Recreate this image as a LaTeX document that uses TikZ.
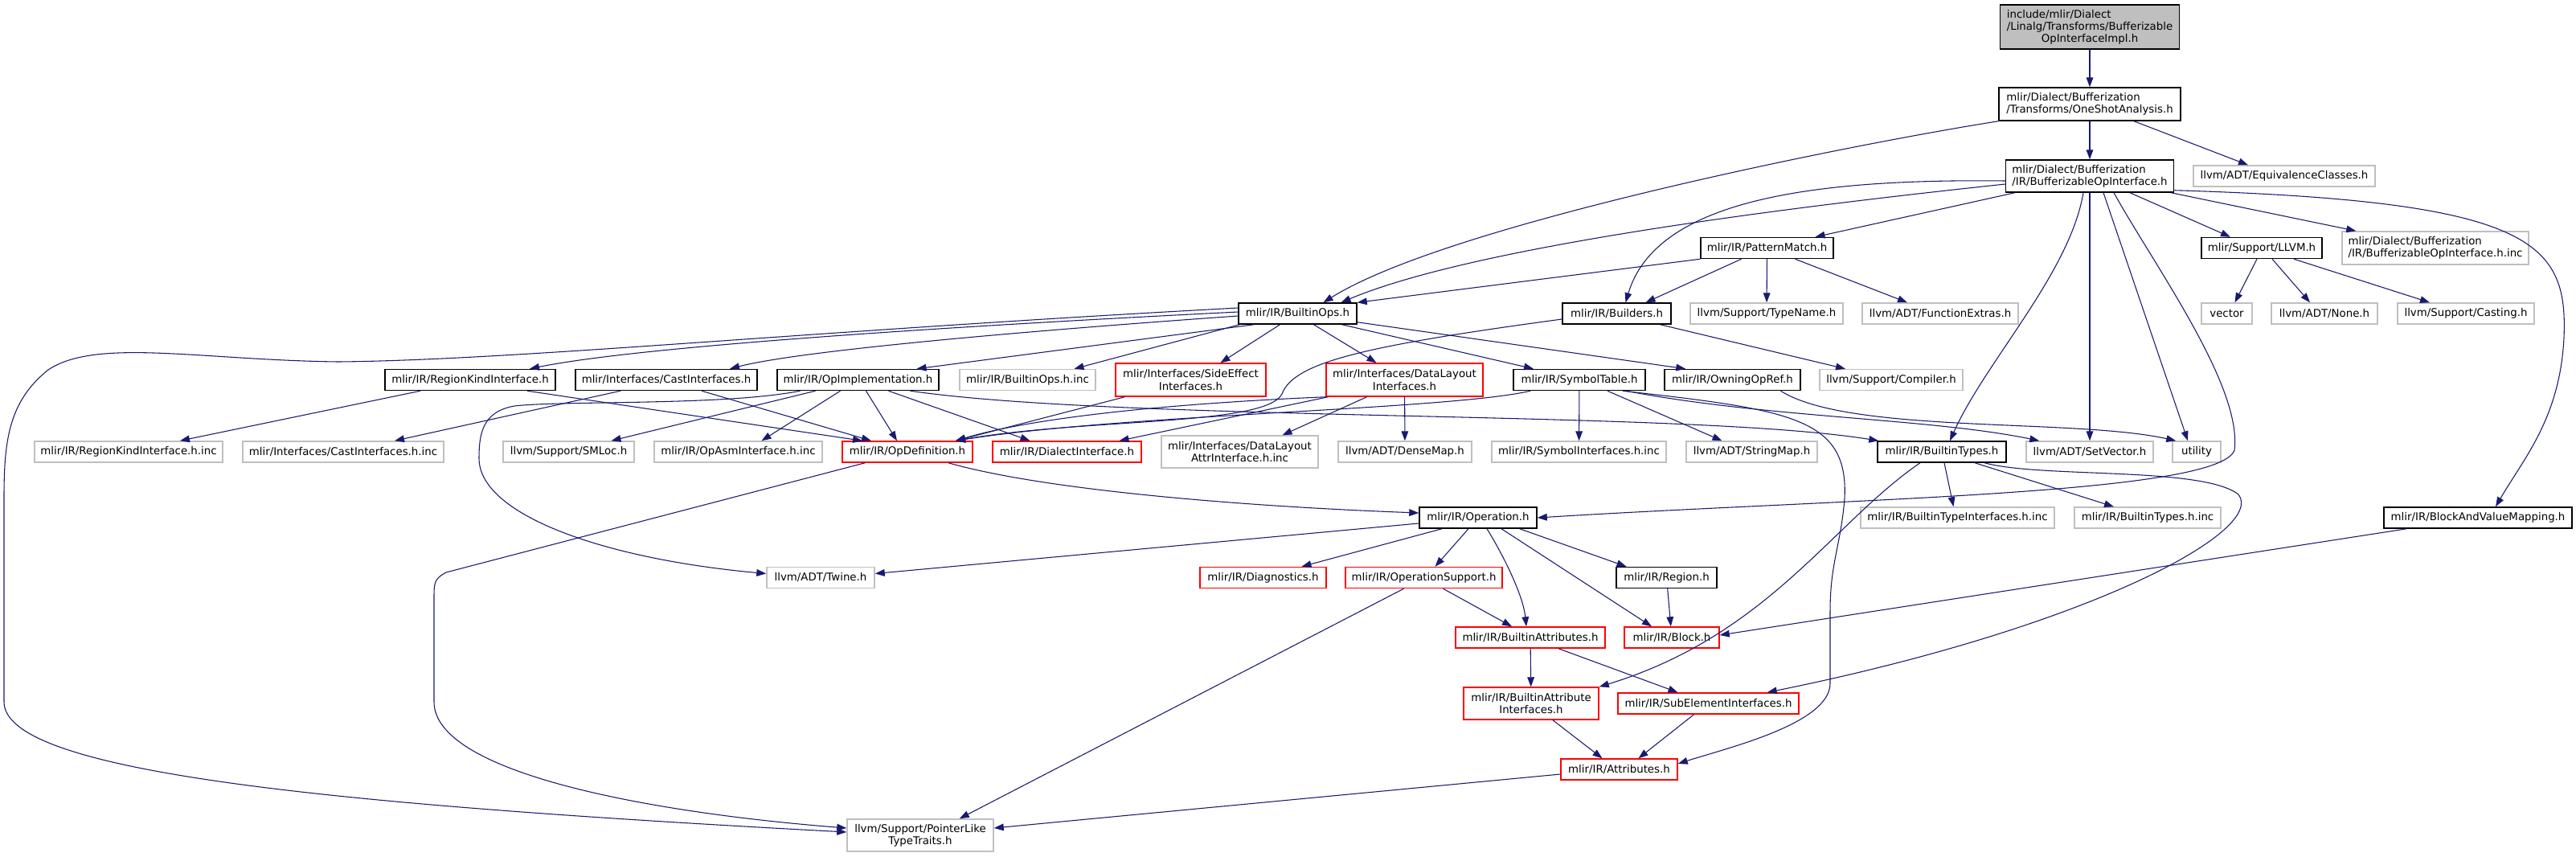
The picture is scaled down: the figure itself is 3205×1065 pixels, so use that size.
\documentclass[tikz,border=0pt]{standalone}
\usepackage{fontspec}
\setmainfont{DejaVu Sans}
\usepackage{calc}
\usetikzlibrary{arrows.meta,calc}
\definecolor{edgec}{RGB}{25,25,112}
\definecolor{grayb}{RGB}{191,191,191}
\newcommand{\mknode}[7]{\node[#6, minimum width=#4*0.75pt, minimum height=#5*0.75pt] (#1) at (#2,#3) {#7};}
\begin{document}
\begin{tikzpicture}[x=0.75pt,y=-0.75pt,
  nb/.style={draw, line width=1.1pt, inner sep=0pt, font=\fontsize{10}{11.3}\selectfont, fill=white},
  blk/.style={nb, draw=black},
  gry/.style={nb, draw=grayb},
  rd/.style={nb, draw=red},
  e/.style={draw=edgec, line width=0.8pt, -{Triangle[length=9pt,width=6.5pt]}}]
\useasboundingbox (0,0) rectangle (3205,1065);
\fill[white] (0,0) rectangle (3205,1065);
% nodes
\mknode{root}{2600}{33.5}{223}{55}{blk,fill=grayb,align=left}{include/mlir/Dialect\\/Linalg/Transforms/Bufferizable\\\makebox[\widthof{/Linalg/Transforms/Bufferizable}][c]{OpInterfaceImpl.h}}
\mknode{oneshot}{2600}{129.5}{226}{41}{blk,align=left}{mlir/Dialect/Bufferization\\/Transforms/OneShotAnalysis.h}
\mknode{boi}{2600}{219}{209}{40}{blk,align=left}{mlir/Dialect/Bufferization\\/IR/BufferizableOpInterface.h}
\mknode{equiv}{2842}{219}{226}{26}{gry}{llvm/ADT/EquivalenceClasses.h}
\mknode{pm}{2198.5}{308.5}{165}{26}{blk}{mlir/IR/PatternMatch.h}
\mknode{llvmh}{2814}{308.5}{150}{26}{blk}{mlir/Support/LLVM.h}
\mknode{boiinc}{3030}{308.5}{232}{41}{gry,align=left}{mlir/Dialect/Bufferization\\/IR/BufferizableOpInterface.h.inc}
\mknode{builders}{2011.5}{390}{135}{26}{blk}{mlir/IR/Builders.h}
\mknode{typename}{2198}{390}{190}{26}{gry}{llvm/Support/TypeName.h}
\mknode{funcext}{2414}{390}{194}{26}{gry}{llvm/ADT/FunctionExtras.h}
\mknode{vector}{2770.5}{390}{63}{26}{gry}{vector}
\mknode{none}{2892}{390}{132}{26}{gry}{llvm/ADT/None.h}
\mknode{casting}{3068}{390}{170}{26}{gry}{llvm/Support/Casting.h}
\mknode{bops}{1614.5}{390}{147}{26}{blk}{mlir/IR/BuiltinOps.h}
\mknode{rki}{585}{472.5}{212}{26}{blk}{mlir/IR/RegionKindInterface.h}
\mknode{casti}{829}{472.5}{226}{26}{blk}{mlir/Interfaces/CastInterfaces.h}
\mknode{opimpl}{1067.5}{472.5}{201}{26}{blk}{mlir/IR/OpImplementation.h}
\mknode{bopsinc}{1278.5}{472.5}{169}{26}{gry}{mlir/IR/BuiltinOps.h.inc}
\mknode{sideeff}{1481.5}{472.5}{187}{41}{rd,align=center}{mlir/Interfaces/SideEffect\\Interfaces.h}
\mknode{dli}{1747.5}{472.5}{195}{41}{rd,align=center}{mlir/Interfaces/DataLayout\\Interfaces.h}
\mknode{symtab}{1965}{472.5}{164}{26}{blk}{mlir/IR/SymbolTable.h}
\mknode{owning}{2155.5}{472.5}{169}{26}{blk}{mlir/IR/OwningOpRef.h}
\mknode{compiler}{2353}{472.5}{178}{26}{gry}{llvm/Support/Compiler.h}
\mknode{rkiinc}{160}{562}{234}{26}{gry}{mlir/IR/RegionKindInterface.h.inc}
\mknode{castiinc}{427}{562}{250}{26}{gry}{mlir/Interfaces/CastInterfaces.h.inc}
\mknode{smloc}{707.5}{562}{163}{26}{gry}{llvm/Support/SMLoc.h}
\mknode{opasm}{918.5}{562}{209}{26}{gry}{mlir/IR/OpAsmInterface.h.inc}
\mknode{opdef}{1129}{562}{162}{26}{rd}{mlir/IR/OpDefinition.h}
\mknode{dialect}{1327.5}{562}{185}{26}{rd}{mlir/IR/DialectInterface.h}
\mknode{dlattr}{1542.5}{562}{195}{40}{gry,align=center}{mlir/Interfaces/DataLayout\\AttrInterface.h.inc}
\mknode{densemap}{1748}{562}{166}{26}{gry}{llvm/ADT/DenseMap.h}
\mknode{symifinc}{1964.5}{562}{217}{26}{gry}{mlir/IR/SymbolInterfaces.h.inc}
\mknode{stringmap}{2179.5}{562}{163}{26}{gry}{llvm/ADT/StringMap.h}
\mknode{btypes}{2416}{562}{160}{26}{blk}{mlir/IR/BuiltinTypes.h}
\mknode{setvector}{2600}{562}{158}{26}{gry}{llvm/ADT/SetVector.h}
\mknode{utility}{2733}{562}{60}{26}{gry}{utility}
\mknode{operation}{1839}{644}{146}{26}{blk}{mlir/IR/Operation.h}
\mknode{btiinc}{2435.5}{644}{241}{26}{gry}{mlir/IR/BuiltinTypeInterfaces.h.inc}
\mknode{btinc}{2672}{644}{182}{26}{gry}{mlir/IR/BuiltinTypes.h.inc}
\mknode{bvm}{3083}{644}{234}{26}{blk}{mlir/IR/BlockAndValueMapping.h}
\mknode{twine}{1021}{718.5}{134}{26}{gry}{llvm/ADT/Twine.h}
\mknode{diag}{1571.5}{718.5}{157}{26}{rd}{mlir/IR/Diagnostics.h}
\mknode{opsupport}{1771.5}{718.5}{195}{26}{rd}{mlir/IR/OperationSupport.h}
\mknode{region}{2073.5}{718.5}{125}{26}{blk}{mlir/IR/Region.h}
\mknode{battr}{1904}{793}{186}{26}{rd}{mlir/IR/BuiltinAttributes.h}
\mknode{block}{2080}{793}{118}{26}{rd}{mlir/IR/Block.h}
\mknode{bai}{1905}{875}{168}{40}{rd,align=center}{mlir/IR/BuiltinAttribute\\Interfaces.h}
\mknode{subel}{2125.5}{875}{225}{26}{rd}{mlir/IR/SubElementInterfaces.h}
\mknode{attrs}{2014.5}{957}{145}{26}{rd}{mlir/IR/Attributes.h}
\mknode{plt}{1145}{1039}{182}{40}{gry,align=center}{llvm/Support/PointerLike\\TypeTraits.h}
% edges
\draw[e] (root) -- (oneshot);
\draw[e] (oneshot) -- (boi);
\draw[e] ($(oneshot.south)+(55,0)$) -- ($(equiv.north)+(-45,0)$);
\draw[e] (oneshot.south west) .. controls (2300,180) and (1800,280) .. ($(bops.north)+(32,0)$);
\draw[e] ($(boi.south west)+(12,0)$) -- ($(pm.north)+(60,0)$);
\draw[e] ($(boi.west)+(0,6)$) .. controls (2250,222) and (2060,250) .. ($(builders.north)+(11,0)$);
\draw[e] ($(boi.west)+(0,10)$) .. controls (2300,250) and (1850,300) .. ($(bops.north)+(54,0)$);
\draw[e] (pm.south west) -- (bops.north east);
\draw[e] ($(pm.south)+(-32,0)$) -- ($(builders.north)+(36,0)$);
\draw[e] (pm) -- (typename);
\draw[e] ($(pm.south)+(35,0)$) -- ($(funcext.north)+(-41,0)$);
\draw[e] ($(boi.south)+(50,0)$) -- ($(llvmh.north)+(-39,0)$);
\draw[e] ($(boi.south east)+(-4,0)$) -- ($(boiinc.north west)+(18,0)$);
\draw[e] ($(boi.south east)+(0,-3)$) .. controls (3150,250) and (3195,300) .. (3190,420) .. controls (3185,520) and (3140,570) .. ($(bvm.north)+(22,0)$);
\draw[e] ($(boi.south)+(-8,0)$) .. controls (2575,340) and (2470,450) .. ($(btypes.north)+(10,0)$);
\draw[e] (boi) -- (setvector);
\draw[e] ($(boi.south)+(17,0)$) -- ($(utility.north)+(-11,0)$);
\draw[e] ($(boi.south)+(30,0)$) .. controls (2680,330) and (2790,480) .. (2780,560) .. controls (2760,615) and (2300,620) .. (operation.east);
\draw[e] ($(llvmh.south)+(-6,0)$) -- ($(vector.north)+(10,0)$);
\draw[e] ($(llvmh.south)+(13,0)$) -- ($(none.north)+(-18,0)$);
\draw[e] ($(llvmh.south)+(40,0)$) -- ($(casting.north)+(-45,0)$);
\draw[e] ($(builders.west)+(0,7)$) .. controls (1700,430) and (1610,450) .. (1595,490) .. controls (1575,530) and (1350,520) .. ($(opdef.north)+(60,0)$);
\draw[e] ($(builders.south)+(54,0)$) -- ($(compiler.north)+(-57,0)$);
\draw[e] ($(bops.west)+(0,-2)$) .. controls (1200,405) and (800,430) .. ($(rki.north)+(74,0)$);
\draw[e] ($(bops.west)+(0,3)$) .. controls (1300,410) and (1000,435) .. ($(casti.north)+(79,0)$);
\draw[e] ($(bops.south west)+(20,0)$) -- ($(opimpl.north)+(73,0)$);
\draw[e] ($(bops.south west)+(2,0)$) -- ($(bopsinc.north)+(58,0)$);
\draw[e] ($(bops.south)+(-22,0)$) -- ($(sideeff.north)+(37,0)$);
\draw[e] ($(bops.south)+(20,0)$) -- ($(dli.north)+(-35,0)$);
\draw[e] ($(bops.south)+(55,0)$) -- ($(symtab.north)+(-57,0)$);
\draw[e] ($(bops.south east)+(0,-3)$) -- ($(owning.north west)+(27,0)$);
\draw[e] ($(bops.west)+(0,-7)$) .. controls (1000,412) and (640,448) .. (421,450) .. controls (250,448) and (120,420) .. (60,460) .. controls (10,500) and (5,550) .. (5,620) -- (5,873) .. controls (5,960) and (400,1000) .. ($(plt.west)+(0,-4)$);
\draw[e] ($(opdef.south west)+(29,0)$) -- (555,712) .. controls (540,720) and (540,725) .. (540,745) -- (540,873) .. controls (540,960) and (800,1010) .. ($(plt.west)+(0,-9)$);
\draw[e] ($(opimpl.south)+(-53,0)$) -- ($(smloc.north)+(53,0)$);
\draw[e] ($(opimpl.south)+(-22,0)$) -- ($(opasm.north)+(29,0)$);
\draw[e] ($(opimpl.south)+(10,0)$) -- ($(opdef.north)+(-13,0)$);
\draw[e] ($(opimpl.south)+(38,0)$) -- ($(dialect.north)+(-46,0)$);
\draw[e] ($(opimpl.south)+(65,0)$) .. controls (1400,525) and (2100,510) .. ($(btypes.north west)+(2,0)$);
\draw[e] ($(opimpl.south)+(-72,0)$) .. controls (900,505) and (700,498) .. (640,505) .. controls (600,512) and (596,540) .. (596,570) .. controls (596,640) and (750,695) .. ($(twine.west)+(0,-5)$);
\draw[e] ($(rki.south)+(-62,0)$) -- ($(rkiinc.north)+(64,0)$);
\draw[e] ($(rki.south)+(71,0)$) -- ($(opdef.north)+(-56,0)$);
\draw[e] ($(casti.south)+(-57,0)$) -- ($(castiinc.north)+(64,0)$);
\draw[e] ($(casti.south)+(44,0)$) -- ($(opdef.north)+(-45,0)$);
\draw[e] ($(sideeff.south west)+(12,0)$) -- ($(opdef.north)+(60,0)$);
\draw[e] (dli.south west) .. controls (1500,500) and (1300,515) .. ($(opdef.north)+(60,0)$);
\draw[e] ($(dli.south west)+(3,0)$) -- ($(dialect.north)+(65,0)$);
\draw[e] ($(dli.south)+(-47,0)$) -- ($(dlattr.north)+(53,0)$);
\draw[e] (dli) -- (densemap);
\draw[e] ($(symtab.south west)+(22,0)$) .. controls (1800,510) and (1400,515) .. ($(opdef.north)+(60,0)$);
\draw[e] (symtab) -- (symifinc);
\draw[e] ($(symtab.south)+(35,0)$) -- ($(stringmap.north)+(-37,0)$);
\draw[e] ($(symtab.south)+(58,0)$) .. controls (2200,520) and (2400,520) .. ($(setvector.north west)+(17,0)$);
\draw[e] ($(symtab.south)+(54,0)$) .. controls (2230,510) and (2300,520) .. (2295,620) .. controls (2290,680) and (2277,700) .. (2277,760) -- (2277,850) .. controls (2277,900) and (2150,930) .. ($(attrs.east)+(0,-7)$);
\draw[e] ($(owning.south)+(60,0)$) .. controls (2300,540) and (2580,520) .. ($(utility.north west)+(5,0)$);
\draw[e] ($(btypes.south)+(3,0)$) -- ($(btiinc.north)+(-5,0)$);
\draw[e] ($(btypes.south)+(41,0)$) -- ($(btinc.north)+(-42,0)$);
\draw[e] ($(btypes.south)+(-27,0)$) .. controls (2280,650) and (2200,790) .. (bai.north east);
\draw[e] ($(btypes.south)+(53,0)$) .. controls (2540,595) and (2740,580) .. (2785,615) .. controls (2820,660) and (2600,780) .. ($(subel.north east)+(-40,0)$);
\draw[e] ($(bvm.south west)+(29,0)$) -- ($(block.east)+(0,-3)$);
\draw[e] ($(opdef.south)+(51,0)$) .. controls (1300,610) and (1550,630) .. ($(operation.west)+(0,-6)$);
\draw[e] ($(operation.west)+(0,7)$) -- ($(twine.east)+(0,-5)$);
\draw[e] ($(operation.south)+(-45,0)$) -- ($(diag.north)+(48,0)$);
\draw[e] ($(operation.south)+(-12,0)$) -- ($(opsupport.north)+(14,0)$);
\draw[e] ($(operation.south)+(11,0)$) .. controls (1870,690) and (1895,740) .. ($(battr.north)+(-5,0)$);
\draw[e] ($(operation.south)+(29,0)$) -- ($(block.north)+(-25,0)$);
\draw[e] ($(operation.south east)+(-22,0)$) -- ($(region.north)+(-50,0)$);
\draw[e] ($(opsupport.south)+(24,0)$) -- ($(battr.north)+(-23,0)$);
\draw[e] ($(opsupport.south)+(-25,0)$) -- ($(plt.north east)+(-43,0)$);
\draw[e] (region) -- (block);
\draw[e] (battr) -- (bai);
\draw[e] ($(battr.south)+(35,0)$) -- ($(subel.north)+(-38,0)$);
\draw[e] ($(bai.south)+(27,0)$) -- ($(attrs.north)+(-21,0)$);
\draw[e] ($(subel.south)+(-18,0)$) -- ($(attrs.north)+(24,0)$);
\draw[e] ($(attrs.west)+(0,6)$) -- ($(plt.east)+(0,-9)$);
\end{tikzpicture}
\end{document}
